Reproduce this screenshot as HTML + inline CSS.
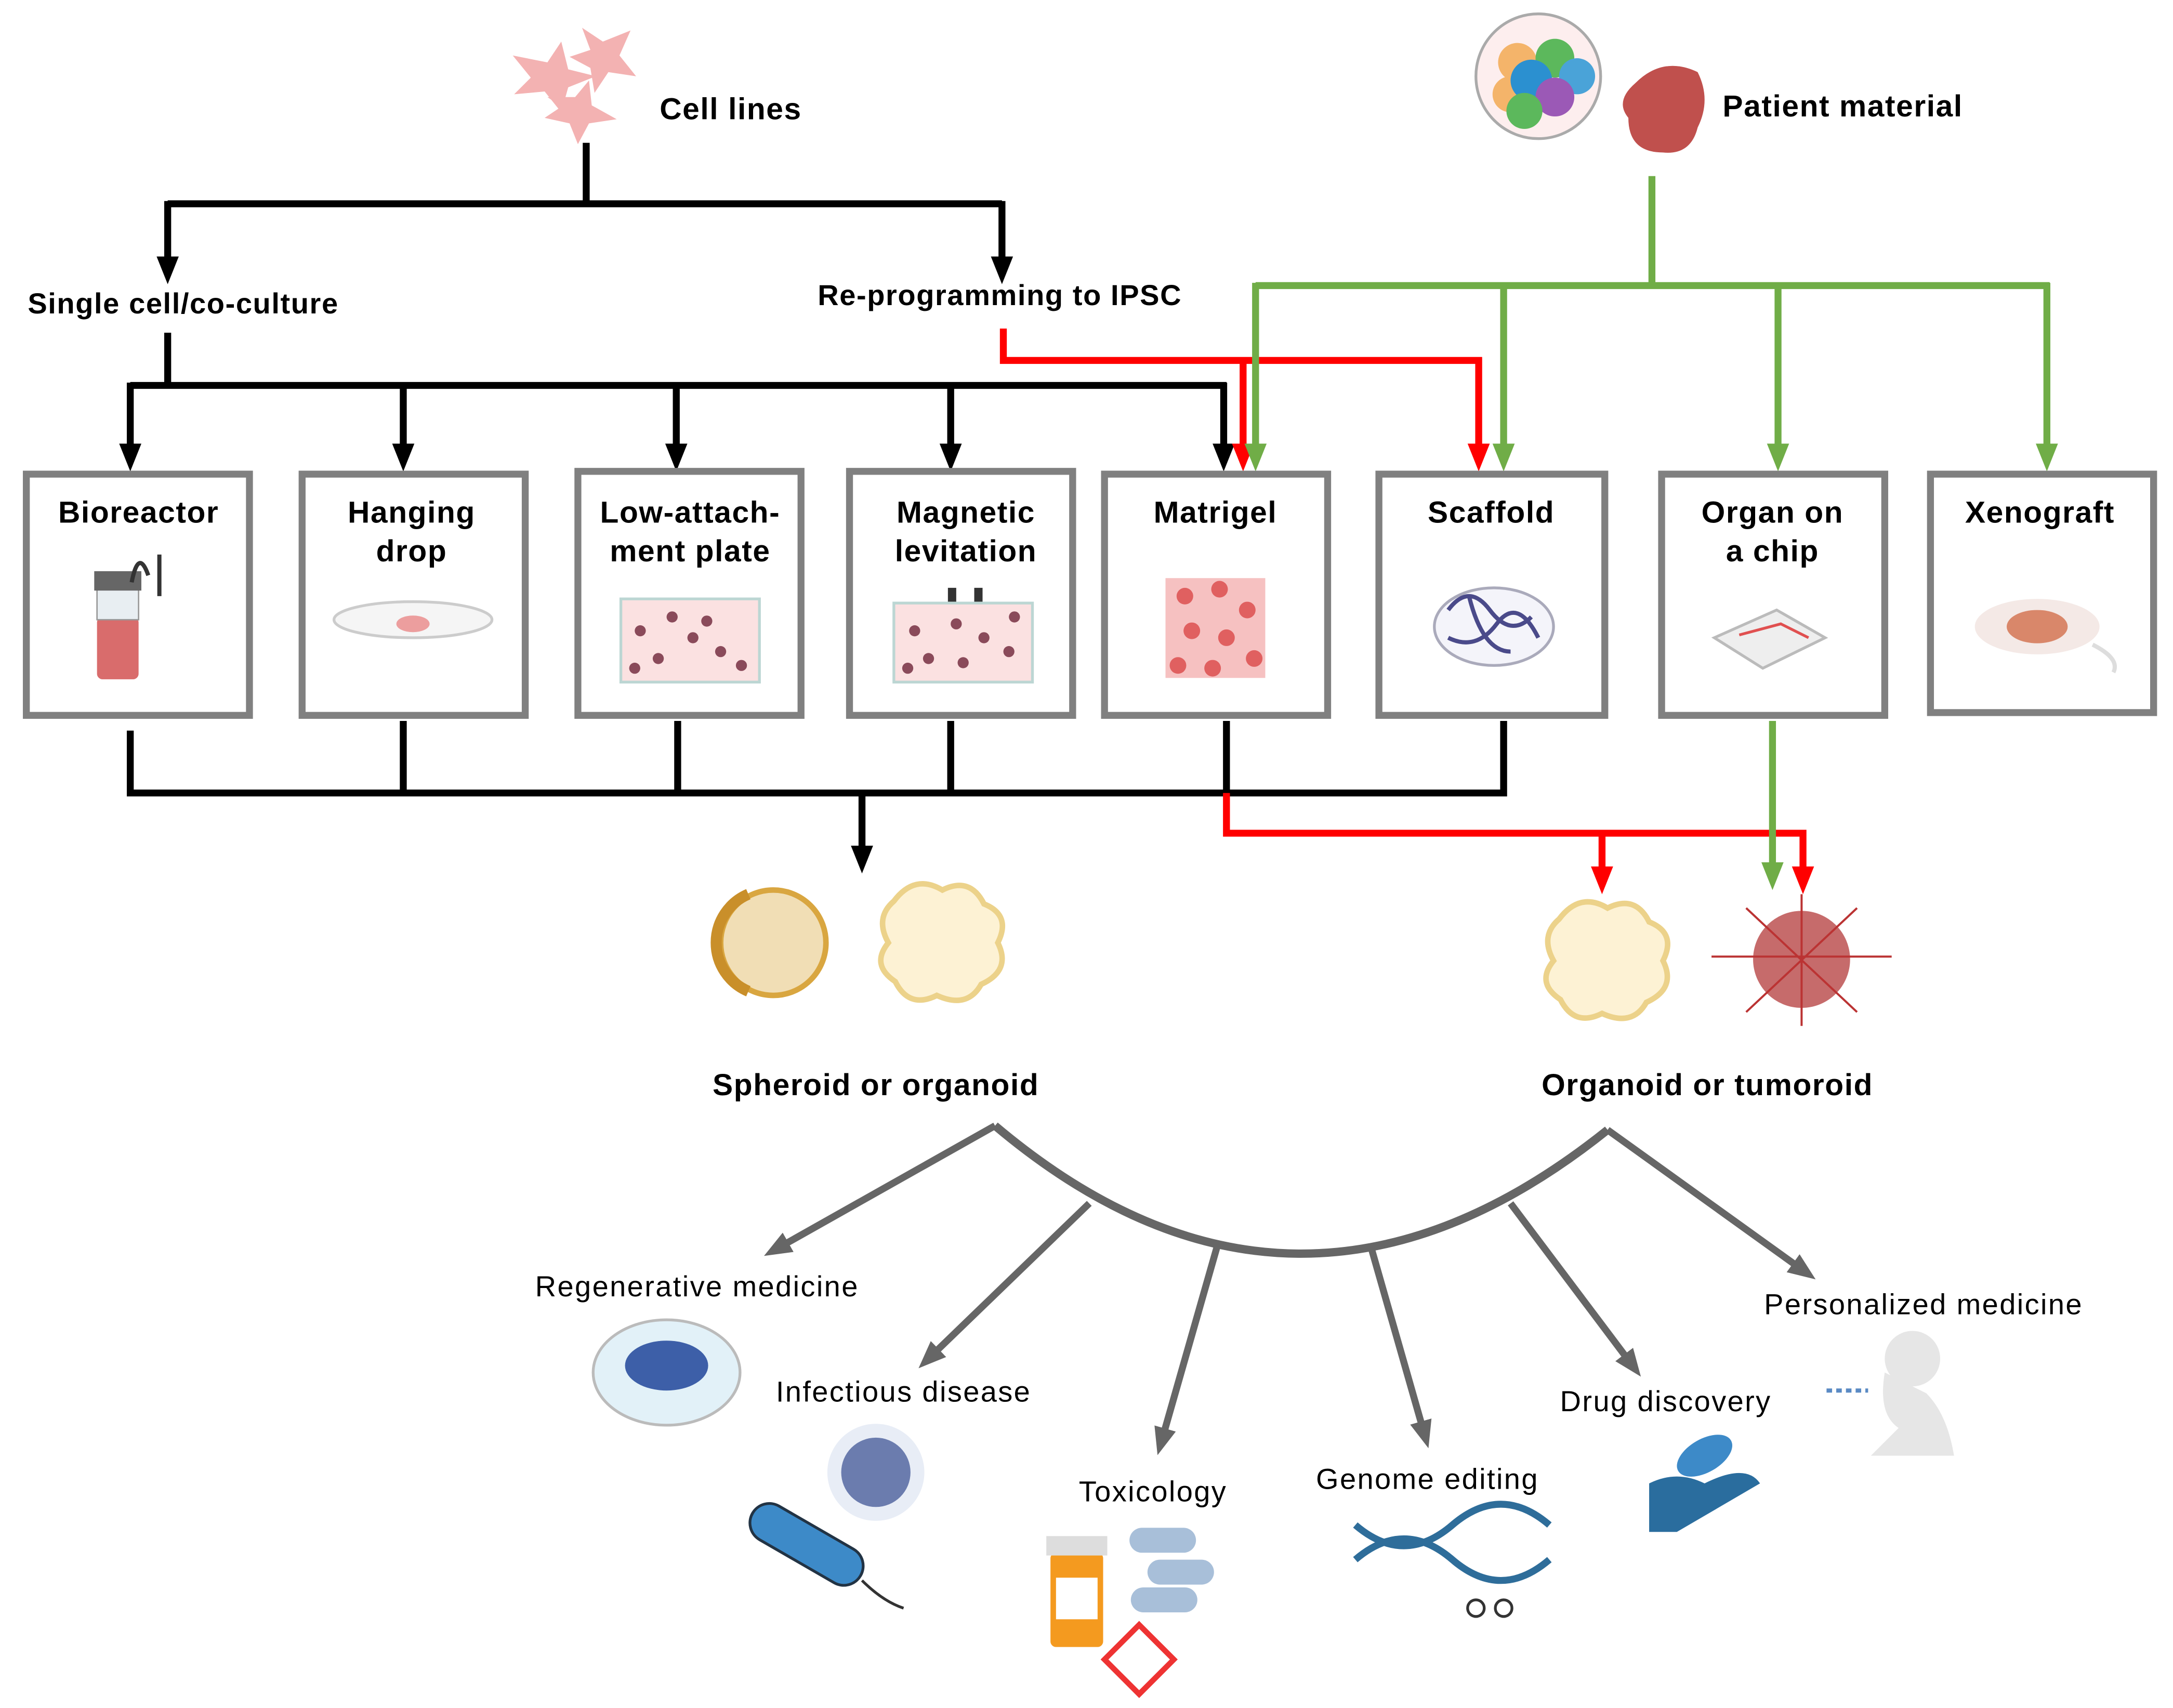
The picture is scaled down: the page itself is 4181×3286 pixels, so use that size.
<!DOCTYPE html>
<html><head><meta charset="utf-8"><style>
html,body{margin:0;padding:0;background:#fff}
svg{display:block}
text{font-family:"Liberation Sans",Arial,sans-serif}
.b{font-weight:bold;letter-spacing:0.6px}
.a{letter-spacing:0.9px}
</style></head><body>
<svg width="4181" height="3286" viewBox="0 0 1568 1232" preserveAspectRatio="none" xmlns="http://www.w3.org/2000/svg">
<defs>
<marker id="ab" markerWidth="4" markerHeight="4" refX="2" refY="2" orient="auto" markerUnits="strokeWidth"><path d="M0,0.4 L4,2 L0,3.6z" fill="#000"/></marker>
<marker id="ar" markerWidth="4" markerHeight="4" refX="2" refY="2" orient="auto" markerUnits="strokeWidth"><path d="M0,0.4 L4,2 L0,3.6z" fill="#f00"/></marker>
<marker id="ag" markerWidth="4" markerHeight="4" refX="2" refY="2" orient="auto" markerUnits="strokeWidth"><path d="M0,0.4 L4,2 L0,3.6z" fill="#70ad47"/></marker>
<marker id="ay" markerWidth="4" markerHeight="4" refX="2" refY="2" orient="auto" markerUnits="strokeWidth"><path d="M0,0.4 L4,2 L0,3.6z" fill="#666"/></marker>
</defs>

<g fill="#f2a5a5" opacity="0.85">
<path d="M370,40 l25,5 l10,-15 l5,20 l20,5 l-20,8 l-5,18 l-12,-15 l-22,2 l12,-12z"/>
<path d="M420,20 l15,10 l20,-8 l-8,18 l12,15 l-20,-3 l-10,15 l-3,-18 l-15,-8 l15,-5z"/>
<path d="M395,70 l20,0 l10,-12 l2,18 l18,10 l-20,3 l-8,15 l-6,-15 l-18,-4 l12,-8z"/>
</g>
<text class="b" x="476" y="86" font-size="22">Cell lines</text>

<circle cx="1110" cy="55" r="45" fill="#fdeeee" stroke="#aaa" stroke-width="2"/>
<circle cx="1095" cy="45" r="14" fill="#f4b46a"/>
<circle cx="1122" cy="42" r="14" fill="#5cb85c"/>
<circle cx="1138" cy="55" r="13" fill="#4aa3d8"/>
<circle cx="1090" cy="68" r="13" fill="#f4b46a"/>
<circle cx="1105" cy="58" r="15" fill="#2b90d0"/>
<circle cx="1122" cy="70" r="14" fill="#9b59b6"/>
<circle cx="1100" cy="80" r="13" fill="#5cb85c"/>
<path d="M1180,60 q20,-20 45,-8 q10,20 0,40 q-5,20 -25,18 q-25,0 -25,-25 q-10,-12 5,-25z" fill="#c0504d"/>
<text class="b" x="1243" y="84" font-size="22">Patient material</text>

<g stroke="#000" stroke-width="5" fill="none">
<path d="M423,103 V147 M121,147 H723"/>
<path d="M121,145 V195" marker-end="url(#ab)"/>
<path d="M723,145 V195" marker-end="url(#ab)"/>
<path d="M121,240 V278 M94,278 H885"/>
<path d="M94,276 V330" marker-end="url(#ab)"/>
<path d="M291,276 V330" marker-end="url(#ab)"/>
<path d="M488,276 V330" marker-end="url(#ab)"/>
<path d="M686,276 V330" marker-end="url(#ab)"/>
<path d="M883,276 V330" marker-end="url(#ab)"/>
</g>
<text class="b" x="20" y="226" font-size="21">Single cell/co-culture</text>
<text class="b" x="590" y="220" font-size="21">Re-programming to IPSC</text>

<g stroke="#f00" stroke-width="5" fill="none">
<path d="M724,237 V260 H1067 V330" marker-end="url(#ar)"/>
<path d="M897,258 V330" marker-end="url(#ar)"/>
</g>
<g stroke="#70ad47" stroke-width="5" fill="none">
<path d="M1192,127 V206 M906,206 H1479"/>
<path d="M906,204 V330" marker-end="url(#ag)"/>
<path d="M1085,204 V330" marker-end="url(#ag)"/>
<path d="M1283,204 V330" marker-end="url(#ag)"/>
<path d="M1477,204 V330" marker-end="url(#ag)"/>
</g>

<g fill="#fff" stroke="#808080" stroke-width="5">
<rect x="19" y="342" width="161" height="174"/>
<rect x="218" y="342" width="161" height="174"/>
<rect x="417" y="340" width="161" height="176"/>
<rect x="613" y="340" width="161" height="176"/>
<rect x="797" y="342" width="161" height="174"/>
<rect x="995" y="342" width="163" height="174"/>
<rect x="1199" y="342" width="161" height="174"/>
<rect x="1393" y="342" width="161" height="172"/>
</g>
<g font-size="22" text-anchor="middle" class="b">
<text x="100" y="377">Bioreactor</text>
<text x="297" y="377">Hanging</text><text x="297" y="405">drop</text>
<text x="498" y="377">Low-attach-</text><text x="498" y="405">ment plate</text>
<text x="697" y="377">Magnetic</text><text x="697" y="405">levitation</text>
<text x="877" y="377">Matrigel</text>
<text x="1076" y="377">Scaffold</text>
<text x="1279" y="377">Organ on</text><text x="1279" y="405">a chip</text>
<text x="1472" y="377">Xenograft</text>
</g>
<rect x="70" y="445" width="30" height="45" rx="4" fill="#d96c6c"/>
<rect x="70" y="425" width="30" height="22" fill="#e8eef2" stroke="#999"/>
<rect x="68" y="412" width="34" height="14" fill="#666"/>
<path d="M95,420 q5,-25 12,-5 M115,400 v30" stroke="#333" stroke-width="3" fill="none"/>
<ellipse cx="298" cy="447" rx="57" ry="13" fill="#f5f5f5" stroke="#ccc" stroke-width="2"/>
<ellipse cx="298" cy="450" rx="12" ry="6" fill="#ec9e9e"/>
<rect x="448" y="432" width="100" height="60" fill="#fbe1e1" stroke="#bcd6d3" stroke-width="2"/>
<g fill="#8a4a5a"><circle cx="462" cy="455" r="4"/><circle cx="485" cy="445" r="4"/><circle cx="500" cy="460" r="4"/><circle cx="475" cy="475" r="4"/><circle cx="520" cy="470" r="4"/><circle cx="535" cy="480" r="4"/><circle cx="458" cy="482" r="4"/><circle cx="510" cy="448" r="4"/></g>
<rect x="645" y="435" width="100" height="57" fill="#fbe1e1" stroke="#bcd6d3" stroke-width="2"/>
<rect x="684" y="424" width="6" height="10" fill="#333"/><rect x="703" y="424" width="6" height="10" fill="#333"/>
<g fill="#8a4a5a"><circle cx="660" cy="455" r="4"/><circle cx="690" cy="450" r="4"/><circle cx="710" cy="460" r="4"/><circle cx="670" cy="475" r="4"/><circle cx="695" cy="478" r="4"/><circle cx="728" cy="470" r="4"/><circle cx="655" cy="482" r="4"/><circle cx="732" cy="445" r="4"/></g>
<rect x="841" y="417" width="72" height="72" fill="#f6c1c1"/>
<g fill="#e06060"><circle cx="855" cy="430" r="6"/><circle cx="880" cy="425" r="6"/><circle cx="900" cy="440" r="6"/><circle cx="860" cy="455" r="6"/><circle cx="885" cy="460" r="6"/><circle cx="905" cy="475" r="6"/><circle cx="850" cy="480" r="6"/><circle cx="875" cy="482" r="6"/></g>
<ellipse cx="1078" cy="452" rx="43" ry="28" fill="#f4f4fa" stroke="#aab" stroke-width="2"/>
<path d="M1045,440 q15,-20 30,0 t30,5 M1045,460 q20,10 35,-10 t30,10 M1060,430 q10,40 30,40" stroke="#4a4a8a" stroke-width="3" fill="none"/>
<path d="M1237,460 l45,-20 l35,20 l-45,22z" fill="#eee" stroke="#bbb" stroke-width="2"/>
<path d="M1255,458 l30,-8 l20,10" stroke="#e05050" stroke-width="2" fill="none"/>
<ellipse cx="1470" cy="452" rx="45" ry="20" fill="#f4e9e6"/>
<ellipse cx="1470" cy="452" rx="22" ry="12" fill="#d9876a"/>
<path d="M1510,465 q20,10 15,20" stroke="#ddd" stroke-width="3" fill="none"/>

<g stroke="#000" stroke-width="5" fill="none">
<path d="M94,527 V572 H1085 V520 M291,520 V572 M489,520 V572 M686,520 V572 M885,520 V572"/>
<path d="M622,570 V620" marker-end="url(#ab)"/>
</g>
<g stroke="#f00" stroke-width="5" fill="none">
<path d="M885,572 V601 H1301 V635" marker-end="url(#ar)"/>
<path d="M1156,599 V635" marker-end="url(#ar)"/>
</g>
<path d="M1279,520 V632" stroke="#70ad47" stroke-width="5" fill="none" marker-end="url(#ag)"/>

<circle cx="558" cy="680" r="38" fill="#f1deb5" stroke="#d9a640" stroke-width="4"/>
<path d="M540,645 a38,38 0 0,0 0,70" stroke="#c98f2a" stroke-width="8" fill="none"/>
<path d="M645,650 q15,-20 35,-8 q20,-10 30,10 q20,8 10,28 q10,20 -12,30 q-10,18 -32,8 q-20,10 -30,-10 q-18,-12 -5,-28 q-10,-18 4,-30z" fill="#fdf2d4" stroke="#ecd28a" stroke-width="4"/>
<path d="M1125,663 q15,-20 35,-8 q20,-10 30,10 q20,8 10,28 q10,20 -12,30 q-10,18 -32,8 q-20,10 -30,-10 q-18,-12 -5,-28 q-10,-18 4,-30z" fill="#fdf2d4" stroke="#ecd28a" stroke-width="4"/>
<circle cx="1300" cy="692" r="35" fill="#c66b6b"/>
<path d="M1235,690 h130 M1260,655 l80,75 M1340,655 l-80,75 M1300,645 v95" stroke="#b33" stroke-width="1.5"/>
<text class="b" x="632" y="790" font-size="22" text-anchor="middle">Spheroid or organoid</text>
<text class="b" x="1232" y="790" font-size="22" text-anchor="middle">Organoid or tumoroid</text>

<path d="M718,812 Q935,995 1160,815" stroke="#666" stroke-width="6" fill="none"/>
<g stroke="#666" stroke-width="5" fill="none">
<path d="M718,812 L560,901" marker-end="url(#ay)"/>
<path d="M786,868 L670,980" marker-end="url(#ay)"/>
<path d="M878,900 L838,1040" marker-end="url(#ay)"/>
<path d="M990,902 L1028,1035" marker-end="url(#ay)"/>
<path d="M1090,868 L1178,985" marker-end="url(#ay)"/>
<path d="M1160,815 L1302,917" marker-end="url(#ay)"/>
</g>
<g font-size="21" text-anchor="middle" class="a">
<text x="503" y="935">Regenerative medicine</text>
<text x="652" y="1011">Infectious disease</text>
<text x="832" y="1083">Toxicology</text>
<text x="1030" y="1074">Genome editing</text>
<text x="1202" y="1018">Drug discovery</text>
<text x="1388" y="948">Personalized medicine</text>
</g>
<ellipse cx="481" cy="990" rx="53" ry="38" fill="#e2f1f8" stroke="#bbb" stroke-width="2"/>
<ellipse cx="481" cy="985" rx="30" ry="18" fill="#3d5fa8"/>
<circle cx="632" cy="1062" r="35" fill="#e8edf6"/>
<circle cx="632" cy="1062" r="25" fill="#4b5f9c" opacity="0.8"/>
<rect x="537" y="1100" width="90" height="28" rx="14" transform="rotate(30 582 1114)" fill="#3d8ac8" stroke="#234" stroke-width="2"/>
<path d="M622,1140 q15,15 30,20" stroke="#333" stroke-width="2" fill="none"/>
<rect x="758" y="1120" width="38" height="68" rx="4" fill="#f49a1f"/>
<rect x="755" y="1108" width="44" height="14" fill="#ddd"/>
<rect x="762" y="1138" width="30" height="30" fill="#fff"/>
<rect x="815" y="1102" width="48" height="18" rx="9" fill="#a8bfd9"/>
<rect x="828" y="1125" width="48" height="18" rx="9" fill="#a8bfd9"/>
<rect x="816" y="1145" width="48" height="18" rx="9" fill="#a8bfd9"/>
<path d="M822,1172 l25,25 l-25,25 l-25,-25z" fill="#fff" stroke="#e33" stroke-width="4"/>
<path d="M978,1100 q35,30 70,0 t70,0 M978,1125 q35,-30 70,0 t70,0" stroke="#2e6d9a" stroke-width="5" fill="none"/>
<circle cx="1065" cy="1160" r="6" fill="none" stroke="#333" stroke-width="2"/><circle cx="1085" cy="1160" r="6" fill="none" stroke="#333" stroke-width="2"/>
<path d="M1190,1070 q20,-10 40,0 q30,-15 40,0 l-60,35 h-20z" fill="#2a6d9e"/>
<ellipse cx="1230" cy="1050" rx="22" ry="12" fill="#3d8ac8" transform="rotate(-30 1230 1050)"/>
<circle cx="1380" cy="980" r="20" fill="#e6e6e6"/>
<path d="M1360,990 q-5,30 10,40 l-20,20 h60 q-5,-30 -20,-45z" fill="#e6e6e6"/>
<path d="M1318,1003 h30" stroke="#5a8ac4" stroke-width="3" stroke-dasharray="4 3"/>
</svg>
</body></html>
